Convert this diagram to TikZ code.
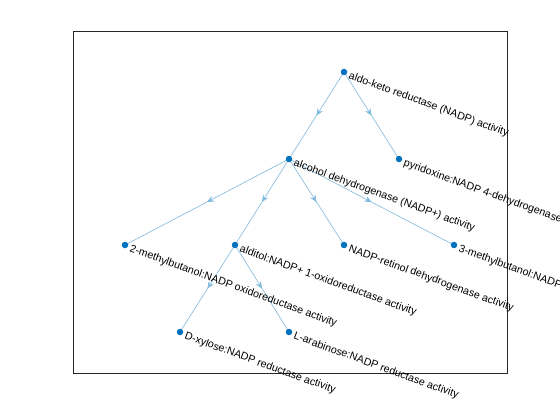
\documentclass[tikz,border=0pt]{standalone}
\usepackage{fontspec}
\setmainfont{Liberation Sans}
\usetikzlibrary{arrows.meta,decorations.markings}
\definecolor{edgec}{RGB}{128,185,222}
\definecolor{nodec}{RGB}{0,114,189}
\definecolor{axc}{RGB}{38,38,38}
\tikzset{
  gnode/.style={circle,fill=nodec,inner sep=0pt,minimum size=6.5pt},
  glabel/.style={anchor=west,rotate=-20,inner sep=0pt,font=\fontsize{10.67}{12}\selectfont,text=black},
  gedge/.style={draw=edgec,line width=0.6pt,postaction={decorate},
    decoration={markings,mark=at position 0.5 with {\arrow{Stealth[length=7pt,width=6pt,inset=2.5pt]}}}},
}
\begin{document}
\begin{tikzpicture}[x=1pt,y=-1pt]
\useasboundingbox (0,0) rectangle (560,420);
\clip (0,0) rectangle (560,420);
\fill[white] (0,0) rectangle (560,420);
\draw[axc,line width=0.7pt] (73,31) rectangle (507,373);
\coordinate (A) at (344,72);
\coordinate (B) at (289,159);
\coordinate (C) at (399,159);
\coordinate (D) at (125,245);
\coordinate (E) at (235,245);
\coordinate (F) at (344,245);
\coordinate (G) at (454,245);
\coordinate (H) at (180,332);
\coordinate (I) at (289,332);
\draw[gedge] (A) -- (B);
\draw[gedge] (A) -- (C);
\draw[gedge] (B) -- (D);
\draw[gedge] (B) -- (E);
\draw[gedge] (B) -- (F);
\draw[gedge] (B) -- (G);
\draw[gedge] (E) -- (H);
\draw[gedge] (E) -- (I);
\foreach \n in {A,B,C,D,E,F,G,H,I} \node[gnode] (n\n) at (\n) {};
\node[glabel] (lA) at ([shift={(5,4)}]A) {aldo-keto reductase (NADP) activity};
\node[glabel] (lB) at ([shift={(5,4)}]B) {alcohol dehydrogenase (NADP+) activity};
\node[glabel] (lC) at ([shift={(5,4)}]C) {pyridoxine:NADP 4-dehydrogenase activity};
\node[glabel] (lD) at ([shift={(5,4)}]D) {2-methylbutanol:NADP oxidoreductase activity};
\node[glabel] (lE) at ([shift={(5,4)}]E) {alditol:NADP+ 1-oxidoreductase activity};
\node[glabel] (lF) at ([shift={(5,4)}]F) {NADP-retinol dehydrogenase activity};
\node[glabel] (lG) at ([shift={(5,4)}]G) {3-methylbutanol:NADP oxidoreductase activity};
\node[glabel] (lH) at ([shift={(5,4)}]H) {D-xylose:NADP reductase activity};
\node[glabel] (lI) at ([shift={(5,4)}]I) {L-arabinose:NADP reductase activity};
\end{tikzpicture}
\end{document}
